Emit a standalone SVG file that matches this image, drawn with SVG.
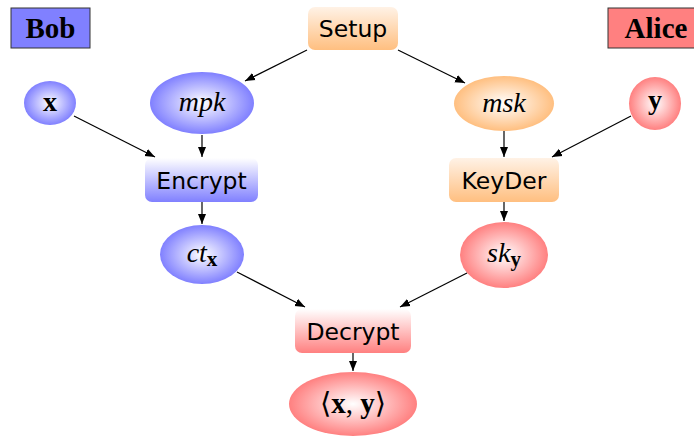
<svg xmlns="http://www.w3.org/2000/svg" width="694" height="436" viewBox="0 0 694 436">
<defs>
<linearGradient id="gBlue" x1="0" y1="0" x2="0" y2="1"><stop offset="0" stop-color="#ffffff"/><stop offset="1" stop-color="#8080ff"/></linearGradient>
<linearGradient id="gOrange" x1="0" y1="0" x2="0" y2="1"><stop offset="0" stop-color="#fff2e6"/><stop offset="1" stop-color="#ffbf80"/></linearGradient>
<linearGradient id="gRed" x1="0" y1="0" x2="0" y2="1"><stop offset="0" stop-color="#ffffff"/><stop offset="1" stop-color="#ff8080"/></linearGradient>
<radialGradient id="rBlue"><stop offset="0" stop-color="#ffffff"/><stop offset="1" stop-color="#8080ff"/></radialGradient>
<radialGradient id="rOrange"><stop offset="0" stop-color="#ffffff"/><stop offset="1" stop-color="#ffbf80"/></radialGradient>
<radialGradient id="rRed"><stop offset="0" stop-color="#ffffff"/><stop offset="1" stop-color="#ff8080"/></radialGradient>
<marker id="arr" viewBox="0 0 10 10" refX="10" refY="5" markerWidth="10" markerHeight="10" markerUnits="userSpaceOnUse" orient="auto"><path d="M0,1 L10,5 L0,9 Z" fill="#000"/></marker>
</defs>
<style>
.sans{font-family:"DejaVu Sans","Liberation Sans",sans-serif;font-size:23.5px;fill:#000;text-anchor:middle;}
.math{font-family:"Liberation Serif","DejaVu Serif",serif;font-style:italic;font-size:28px;fill:#000;text-anchor:middle;}
.bold{font-family:"Liberation Serif","DejaVu Serif",serif;font-weight:bold;font-size:29px;fill:#000;text-anchor:middle;}
.bm{font-family:"Liberation Serif","DejaVu Serif",serif;font-weight:bold;font-style:normal;}
.edge{stroke:#000;stroke-width:1.2;fill:none;marker-end:url(#arr);}
</style>
<g id="bob"><rect x="11" y="8" width="79" height="40" fill="#8080ff" stroke="#333" stroke-width="1"/><text class="bold" x="50.5" y="38">Bob</text></g>
<g id="alice"><rect x="608" y="8" width="90" height="40" fill="#ff8080" stroke="#333" stroke-width="1"/><text class="bold" x="656" y="38">Alice</text></g>
<g id="setup"><rect x="308" y="7" width="90" height="43" rx="7" fill="url(#gOrange)"/><text class="sans" x="353" y="37">Setup</text></g>
<g id="x"><ellipse cx="50" cy="103" rx="26" ry="22" fill="url(#rBlue)"/><text class="bold" x="50" y="111" style="font-size:28px">x</text></g>
<g id="mpk"><ellipse cx="202" cy="103" rx="52" ry="31" fill="url(#rBlue)"/><text class="math" x="202" y="111">mpk</text></g>
<g id="msk"><ellipse cx="504" cy="103.5" rx="50" ry="27.5" fill="url(#rOrange)"/><text class="math" x="504" y="112">msk</text></g>
<g id="y"><ellipse cx="655" cy="103.5" rx="26" ry="26.5" fill="url(#rRed)"/><text class="bold" x="655" y="109" style="font-size:28px">y</text></g>
<g id="encrypt"><rect x="145" y="158" width="113" height="44" rx="7" fill="url(#gBlue)"/><text class="sans" x="201.5" y="189">Encrypt</text></g>
<g id="keyder"><rect x="449" y="158" width="110" height="44" rx="7" fill="url(#gOrange)"/><text class="sans" x="504" y="189">KeyDer</text></g>
<g id="ctx"><ellipse cx="202" cy="254.5" rx="42" ry="29.5" fill="url(#rBlue)"/><text class="math" x="202" y="262">ct<tspan class="bm" font-size="21" dy="4">x</tspan></text></g>
<g id="sky"><ellipse cx="504" cy="255" rx="44" ry="33" fill="url(#rRed)"/><text class="math" x="504" y="262">sk<tspan class="bm" font-size="21" dy="4">y</tspan></text></g>
<g id="decrypt"><rect x="295" y="309" width="116" height="44" rx="7" fill="url(#gRed)"/><text class="sans" x="353" y="340">Decrypt</text></g>
<g id="xy"><ellipse cx="353" cy="404" rx="64" ry="32" fill="url(#rRed)"/><text x="353" y="413" style="font-family:'Liberation Serif','DejaVu Serif',serif;font-size:29px;text-anchor:middle">⟨<tspan font-weight="bold">x</tspan>, <tspan font-weight="bold">y</tspan>⟩</text></g>
<g id="connectors">
<line class="edge" x1="307" y1="50" x2="245" y2="81"/>
<line class="edge" x1="398" y1="50" x2="465" y2="83"/>
<line class="edge" x1="74" y1="116" x2="155" y2="157"/>
<line class="edge" x1="202" y1="135" x2="202" y2="157"/>
<line class="edge" x1="631" y1="116" x2="552" y2="157"/>
<line class="edge" x1="504" y1="131" x2="504" y2="157"/>
<line class="edge" x1="202" y1="202" x2="202" y2="224"/>
<line class="edge" x1="504" y1="202" x2="504" y2="221"/>
<line class="edge" x1="237" y1="272" x2="305" y2="307"/>
<line class="edge" x1="467" y1="273" x2="400" y2="307"/>
<line class="edge" x1="353" y1="353" x2="353" y2="371"/>
</g>
</svg>
